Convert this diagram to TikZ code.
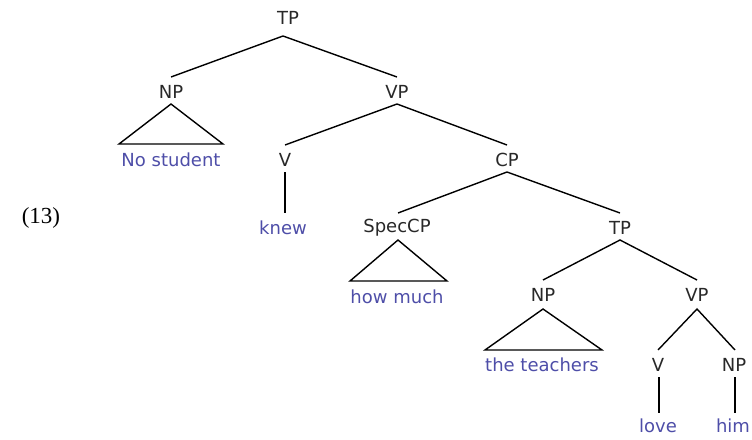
\documentclass[tikz,border=0pt]{standalone}
\usepackage{fontspec}
\setmainfont{DejaVu Sans}
\newfontfamily\serifnum{Liberation Serif}
\definecolor{wordblue}{RGB}{78,78,168}
\definecolor{labgray}{RGB}{40,40,40}
\tikzset{
  cat/.style={inner sep=0pt, text=labgray, font=\fontsize{18}{20}\selectfont},
  word/.style={inner sep=0pt, text=wordblue, font=\fontsize{18}{20}\selectfont},
  edge/.style={line width=1.4pt, black},
}
\begin{document}
\begin{tikzpicture}[x=1pt,y=-1pt]
\useasboundingbox (0,0) rectangle (752,439);
% labels
\node[inner sep=0pt, font=\serifnum\fontsize{23}{25}\selectfont] (ex) at (41,218) {(13)};
\node[cat] (tp1) at (288,18) {TP};
\node[cat] (np1) at (171,92) {NP};
\node[cat] (vp1) at (397,92) {VP};
\node[word] (w1) at (171,160) {No student};
\node[cat] (v1) at (285,160) {V};
\node[word] (w2) at (283,228) {knew};
\node[cat] (cp) at (507,160) {CP};
\node[cat] (spec) at (397,228) {SpecCP};
\node[word] (w3) at (397,297) {how much};
\node[cat] (tp2) at (620,228) {TP};
\node[cat] (np2) at (543,295) {NP};
\node[word] (w4) at (542,365) {the teachers};
\node[cat] (vp2) at (697,295) {VP};
\node[cat] (v2) at (658,365) {V};
\node[cat] (np3) at (734,365) {NP};
\node[word] (w5) at (658,426) {love};
\node[word] (w6) at (733,426) {him};
% edge points
\coordinate (tp1b) at (283,36);
\coordinate (np1t) at (171,77);
\coordinate (vp1t) at (397,77);
\coordinate (np1b) at (171,104);
\coordinate (t1l) at (119,144);
\coordinate (t1r) at (223,144);
\coordinate (vp1b) at (397,104);
\coordinate (v1t) at (285,145);
\coordinate (cpt) at (507,145);
\coordinate (v1b) at (285,172);
\coordinate (w2t) at (285,213);
\coordinate (cpb) at (507,172);
\coordinate (spect) at (398,213);
\coordinate (tp2t) at (620,213);
\coordinate (specb) at (398,240);
\coordinate (t2l) at (350,281);
\coordinate (t2r) at (447,281);
\coordinate (tp2b) at (620,240);
\coordinate (np2t) at (543,280);
\coordinate (vp2t) at (697,280);
\coordinate (np2b) at (543,309);
\coordinate (t3l) at (485,350);
\coordinate (t3r) at (602,350);
\coordinate (vp2b) at (697,309);
\coordinate (v2t) at (658,350);
\coordinate (np3t) at (735,350);
\coordinate (v2b) at (659,377);
\coordinate (w5t) at (659,413);
\coordinate (np3b) at (735,377);
\coordinate (w6t) at (735,413);
% edges
\draw[edge] (np1t) -- (tp1b) -- (vp1t);
\draw[edge] (t1l) -- (np1b) -- (t1r) -- cycle;
\draw[edge] (v1t) -- (vp1b) -- (cpt);
\draw[edge] (v1b) -- (w2t);
\draw[edge] (spect) -- (cpb) -- (tp2t);
\draw[edge] (t2l) -- (specb) -- (t2r) -- cycle;
\draw[edge] (np2t) -- (tp2b) -- (vp2t);
\draw[edge] (t3l) -- (np2b) -- (t3r) -- cycle;
\draw[edge] (v2t) -- (vp2b) -- (np3t);
\draw[edge] (v2b) -- (w5t);
\draw[edge] (np3b) -- (w6t);
\end{tikzpicture}
\end{document}
